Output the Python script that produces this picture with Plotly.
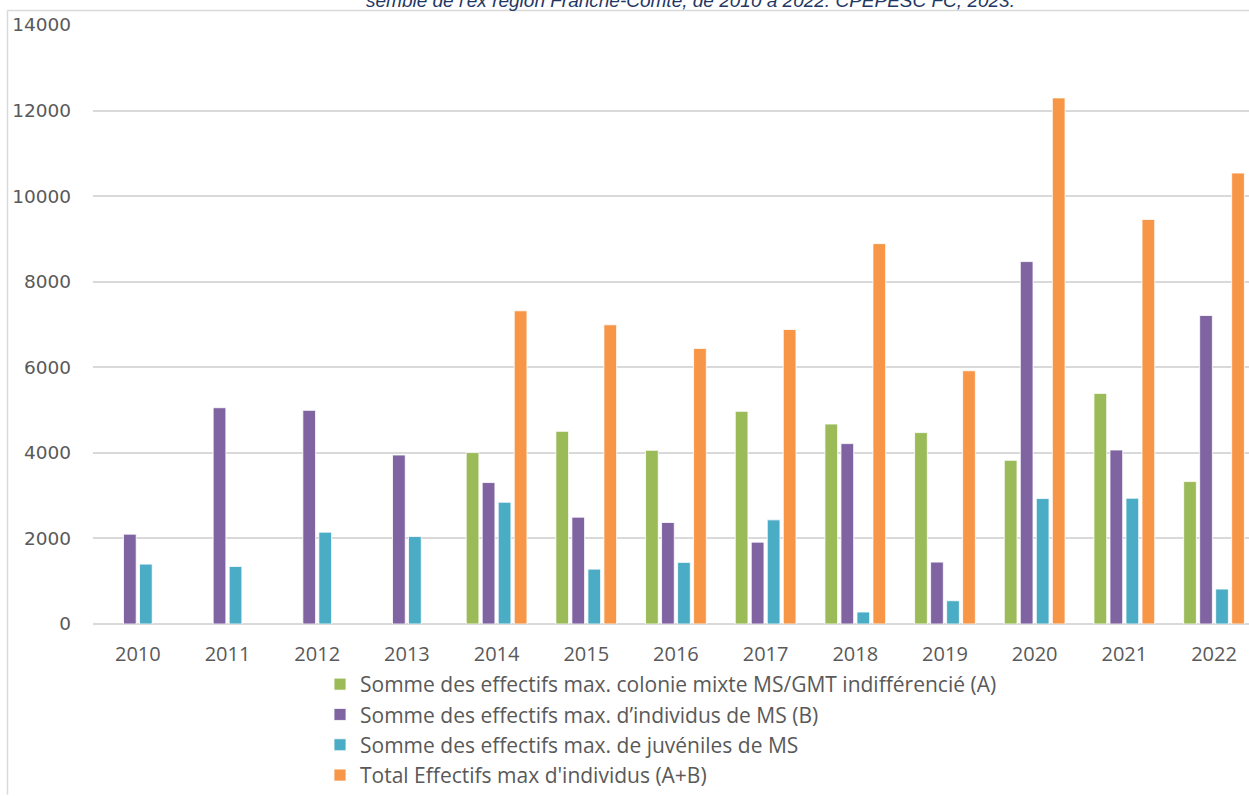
import plotly.graph_objects as go

years = ["2010", "2011", "2012", "2013", "2014", "2015", "2016",
         "2017", "2018", "2019", "2020", "2021", "2022"]

serie_a_name = "Somme des effectifs max. colonie mixte MS/GMT indifférencié (A)"
serie_b_name = "Somme des effectifs max. d’individus de MS (B)"
serie_j_name = "Somme des effectifs max. de juvéniles de MS"
serie_t_name = "Total Effectifs max d'individus (A+B)"

colonie_mixte_a = [None, None, None, None, 4006, 4503, 4060, 4970, 4674, 4473, 3826, 5390, 3329]
individus_ms_b = [2100, 5055, 4993, 3950, 3306, 2497, 2372, 1913, 4216, 1447, 8470, 4067, 7210]
juveniles_ms = [1400, 1345, 2147, 2046, 2846, 1283, 1440, 2434, 280, 544, 2932, 2940, 817]
total_a_b = [None, None, None, None, 7320, 6993, 6440, 6883, 8890, 5919, 12296, 9455, 10540]

y_ticks = [0, 2000, 4000, 6000, 8000, 10000, 12000, 14000]

title_text = "semble de l'ex région Franche-Comté, de 2010 à 2022. CPEPESC FC, 2023."

series = [
    (serie_a_name, colonie_mixte_a, "#9BBB59"),
    (serie_b_name, individus_ms_b, "#8064A2"),
    (serie_j_name, juveniles_ms, "#4BACC6"),
    (serie_t_name, total_a_b, "#F79646"),
]

fig = go.Figure()
for i, (name, vals, col) in enumerate(series):
    fig.add_trace(go.Bar(
        x=years, y=vals, name=name, legendgroup=f"g{i}",
        marker=dict(color=col, line=dict(color="white", width=0.8)),
    ))

W, H = 1249, 796
L, R, T, B = 93, 0, 25, 171
pw, ph = W - L - R, H - T - B

def px_x(p):
    return (p - L) / pw

def px_y(p):
    return (H - B - p) / ph

frame = dict(color="#D9D9D9", width=1.5)

fig.update_layout(
    width=W, height=H,
    margin=dict(l=L, r=R, t=T, b=B, pad=0),
    paper_bgcolor="white", plot_bgcolor="white",
    barmode="group", bargap=0.286, bargroupgap=0.206,
    font=dict(family="Open Sans, sans-serif", color="#595959"),
    xaxis=dict(
        type="category", range=[-0.5, 12.39],
        showgrid=False, ticks="", showline=False,
        tickfont=dict(family="Open Sans", size=20, color="#595959"),
        ticklabelstandoff=16,
    ),
    yaxis=dict(
        range=[0, 14000], tickvals=y_ticks,
        ticktext=[str(v) for v in y_ticks],
        showgrid=True, gridcolor="#D9D9D9", gridwidth=1.5,
        zeroline=True, zerolinecolor="#D9D9D9", zerolinewidth=1.5,
        ticks="", showline=False,
        tickfont=dict(family="DejaVu Sans", size=18.5, color="#595959"),
        ticklabelstandoff=21,
    ),
    legend=dict(
        orientation="v", x=px_x(320), y=px_y(665), xanchor="left", yanchor="top",
        font=dict(family="Open Sans", size=21, color="#595959"),
        tracegroupgap=0, bgcolor="rgba(0,0,0,0)", itemclick=False,
    ),
    showlegend=True,
    shapes=[
        dict(type="line", xref="paper", yref="paper",
             x0=px_x(7.5), x1=px_x(7.5), y0=px_y(796), y1=px_y(10.5),
             line=frame, layer="below"),
        dict(type="line", xref="paper", yref="paper",
             x0=px_x(7.5), x1=px_x(1249), y0=px_y(10.5), y1=px_y(10.5),
             line=frame, layer="below"),
    ],
    annotations=[dict(
        text=title_text, xref="paper", yref="paper",
        x=px_x(690), y=px_y(0), xanchor="center", yanchor="middle",
        showarrow=False,
        font=dict(family="Liberation Sans", size=19, color="#1F3864", style="italic"),
    )],
)

fig.write_html(
    "out.html",
    config={"displayModeBar": False},
    post_script="document.body.style.margin='0';document.body.style.overflow='hidden';",
)
